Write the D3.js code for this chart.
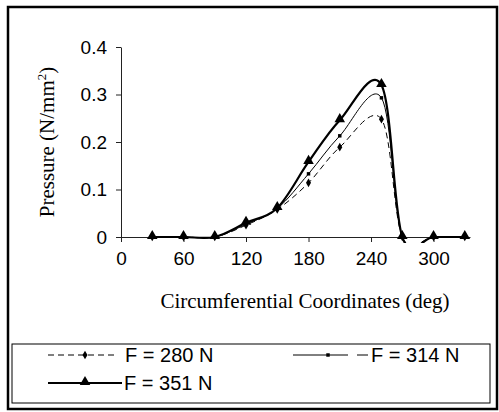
<!DOCTYPE html>
<html>
<head>
<meta charset="UTF-8">
<title>Pressure vs circumferential coordinate</title>
<script src="https://d3js.org/d3.v7.min.js"></script>
<style>
  body {margin: 0; background: #fff;}
  text {fill: #000;}
  .tick text {font-family: Arial, "Liberation Sans", sans-serif; font-size: 19px;}
  .serif {font-family: "Times New Roman", "Liberation Serif", serif;}
</style>
</head>
<body>
<div id="chart"></div>
<script>
  // values
  var angles = [30, 60, 90, 120, 150, 180, 210, 250, 270, 300, 330];
  var p280 = [0, 0, 0, 0.025, 0.058, 0.114, 0.189, 0.248, 0, 0, 0];
  var p314 = [0, 0, 0, 0.027, 0.060, 0.133, 0.213, 0.293, 0, 0, 0];
  var p351 = [0, 0, 0, 0.030, 0.061, 0.158, 0.246, 0.320, 0, 0, 0];
  var xTicks = [0, 60, 120, 180, 240, 300];
  var yTicks = [0, 0.1, 0.2, 0.3, 0.4];
  var seriesNames = ["F = 280 N", "F = 314 N", "F = 351 N"];

  var W = 499, H = 412;

  var svg = d3.select("#chart").append("svg")
      .attr("width", W)
      .attr("height", H);

  // outer frame
  svg.append("rect")
      .attr("x", 8).attr("y", 7)
      .attr("width", 489).attr("height", 402)
      .attr("fill", "none").attr("stroke", "#000").attr("stroke-width", 2.5);

  var x = d3.scaleLinear().domain([0, 335]).range([121, 470]);
  var y = d3.scaleLinear().domain([0, 0.4]).range([237, 47]);

  svg.append("g")
      .attr("transform", "translate(0," + y(0) + ")")
      .call(d3.axisBottom(x).tickValues(xTicks).tickSize(5).tickSizeOuter(0).tickPadding(10));
  svg.append("g")
      .attr("transform", "translate(" + x(0) + ",0)")
      .call(d3.axisLeft(y).tickValues(yTicks).tickSize(5).tickSizeOuter(0).tickPadding(9)
            .tickFormat(function(d) { return d === 0 ? "0" : d3.format(".1f")(d); }));
  svg.selectAll(".domain, .tick line").attr("stroke", "#222");

  svg.append("text")
      .attr("class", "serif")
      .attr("x", 305).attr("y", 308)
      .attr("text-anchor", "middle")
      .attr("font-size", 21)
      .text("Circumferential Coordinates (deg)");

  var yt = svg.append("text")
      .attr("class", "serif")
      .attr("transform", "translate(54,142) rotate(-90)")
      .attr("text-anchor", "middle")
      .attr("font-size", 21);
  yt.append("tspan").text("Pressure (N/mm");
  yt.append("tspan").attr("font-size", 13).attr("dy", -8).text("2");
  yt.append("tspan").attr("dy", 8).text(")");

  svg.append("clipPath").attr("id", "plot")
    .append("rect").attr("x", x(0)).attr("y", 30).attr("width", 360).attr("height", y(0) + 6 - 30);

  var line = d3.line()
      .x(function(d) { return x(d[0]); })
      .y(function(d) { return y(d[1]); })
      .curve(d3.curveCardinal.tension(0));

  function pairs(vals) { return angles.map(function(a, i) { return [a, vals[i]]; }); }

  var plot = svg.append("g").attr("clip-path", "url(#plot)");

  plot.append("path").datum(pairs(p280))
      .attr("d", line).attr("fill", "none").attr("stroke", "#000")
      .attr("stroke-width", 1).attr("stroke-dasharray", "6,4");
  plot.append("path").datum(pairs(p314))
      .attr("d", line).attr("fill", "none").attr("stroke", "#000")
      .attr("stroke-width", 1);
  plot.append("path").datum(pairs(p351))
      .attr("d", line).attr("fill", "none").attr("stroke", "#000")
      .attr("stroke-width", 2.2);

  var diamond = d3.symbol().type(d3.symbolDiamond).size(22);
  var square = d3.symbol().type(d3.symbolSquare).size(12);
  var tri = d3.symbol().type(d3.symbolTriangle).size(48);

  svg.append("g").selectAll("path").data(pairs(p280)).enter().append("path")
      .attr("d", diamond)
      .attr("transform", function(d) { return "translate(" + x(d[0]) + "," + y(d[1]) + ")"; });
  svg.append("g").selectAll("path").data(pairs(p314)).enter().append("path")
      .attr("d", square)
      .attr("transform", function(d) { return "translate(" + x(d[0]) + "," + y(d[1]) + ")"; });
  svg.append("g").selectAll("path").data(pairs(p351)).enter().append("path")
      .attr("d", tri)
      .attr("transform", function(d) { return "translate(" + x(d[0]) + "," + (y(d[1]) - 1) + ")"; });

  // legend
  var lg = svg.append("g");
  lg.append("rect").attr("x", 12).attr("y", 344).attr("width", 478).attr("height", 59)
      .attr("fill", "#fff").attr("stroke", "#000").attr("stroke-width", 1);

  var items = [
    {x1: 48, x2: 118, y: 355, dash: "6,4", w: 1, sym: diamond, tx: 125},
    {x1: 293, x2: 368, y: 355, dash: "55,9,12", w: 1, sym: square, tx: 371},
    {x1: 48, x2: 122, y: 383, dash: null, w: 2.2, sym: tri, tx: 124}
  ];
  items.forEach(function(it, i) {
    lg.append("line").attr("x1", it.x1).attr("x2", it.x2).attr("y1", it.y).attr("y2", it.y)
        .attr("stroke", "#000").attr("stroke-width", it.w)
        .attr("stroke-dasharray", it.dash);
    lg.append("path").attr("d", it.sym)
        .attr("transform", "translate(" + (i == 1 ? 328 : 85) + "," + (it.y - (i == 2 ? 1 : 0)) + ")");
    lg.append("text").attr("x", it.tx).attr("y", it.y + 7)
        .attr("font-family", "Arial, 'Liberation Sans', sans-serif")
        .attr("font-size", 20)
        .text(seriesNames[i]);
  });
</script>
</body>
</html>
